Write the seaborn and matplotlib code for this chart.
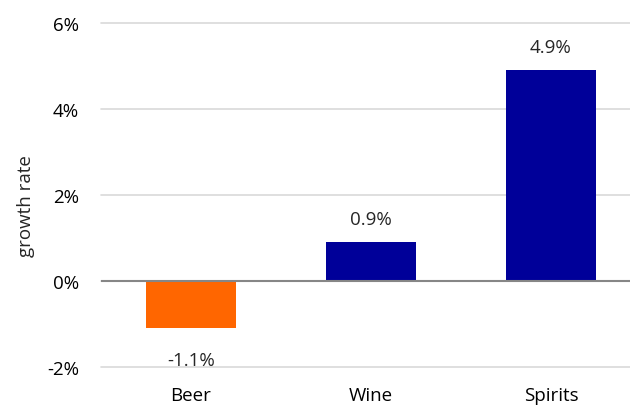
import seaborn as sns
import matplotlib.pyplot as plt
import pandas as pd
from matplotlib.ticker import FuncFormatter

categories = ['Beer', 'Wine', 'Spirits']
growth = [-1.1, 0.9, 4.9]
bar_colors = ['#FF6600', '#000099', '#000099']

df = pd.DataFrame({'category': categories, 'growth': growth})

sns.set_style('white')
plt.rcParams['font.family'] = ['Open Sans', 'DejaVu Sans']

fig = plt.figure(figsize=(6.3, 4.06), dpi=100)
ax = fig.add_axes([101 / 630, 38 / 406, 529 / 630, 344 / 406])

sns.barplot(data=df, x='category', y='growth', hue='category',
            palette=bar_colors, width=0.5, legend=False, ax=ax,
            saturation=1, edgecolor='none')

ax.set_ylim(-2, 6)
ax.set_yticks([-2, 0, 2, 4, 6])
ax.yaxis.set_major_formatter(FuncFormatter(lambda v, p: f'{v:.0f}%'))
ax.set_xlim(-0.5, 2.439)
ax.grid(axis='y', color='#D9D9D9', linewidth=1.2)
for gl in ax.get_ygridlines():
    gl.set_clip_on(False)
ax.set_axisbelow(True)
ax.axhline(0, color='#868686', linewidth=1.5, zorder=3)
for s in ax.spines.values():
    s.set_visible(False)

fs = 13.5
ax.tick_params(axis='both', length=0, labelsize=fs, colors='#000000')
ax.tick_params(axis='x', pad=13.5)
ax.tick_params(axis='y', pad=16)
ax.set_xlabel('')
ax.set_ylabel('growth rate', fontsize=fs)
ax.yaxis.set_label_coords(-66 / 529, 0.47)

for i, v in enumerate(growth):
    off = 16.5 if v >= 0 else -23
    ax.annotate(f'{v:.1f}%', (i, v), xytext=(0, off), textcoords='offset points',
                ha='center', va='center', fontsize=fs)

fig.savefig('out.png', dpi=100)
